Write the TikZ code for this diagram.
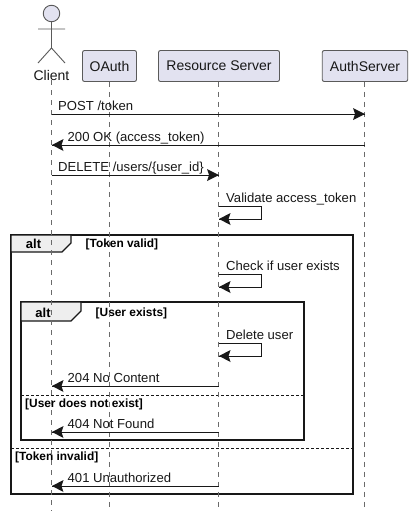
\documentclass[tikz,border=0pt]{standalone}
\usepackage{fontspec}
\setmainfont{Liberation Sans}
\definecolor{partfill}{HTML}{E2E2F0}
\definecolor{partline}{HTML}{5A5A5A}
\definecolor{lifeline}{HTML}{6A6A6A}
\definecolor{tabfill}{HTML}{EEEEEE}
\definecolor{ink}{HTML}{181818}
\tikzset{
  part/.style={draw=partline,fill=partfill,line width=0.9pt,rounded corners=2pt,minimum height=31pt,inner sep=0pt,font=\fontsize{14}{16}\selectfont,text=ink,anchor=center},
  life/.style={draw=lifeline,line width=0.8pt,dash pattern=on 5pt off 5pt},
  msg/.style={draw=ink,line width=0.9pt},
  tip/.style={fill=ink,draw=none},
  lab/.style={font=\fontsize{13.1}{15}\selectfont,text=ink,anchor=base west,inner sep=0pt},
  guard/.style={font=\fontsize{11.9}{13}\selectfont\bfseries,text=black,anchor=base west,inner sep=0pt},
  alttitle/.style={font=\fontsize{13}{15}\selectfont\bfseries,text=black,anchor=center,inner sep=0pt},
  frameline/.style={draw=ink,line width=2pt},
  sep/.style={draw=ink,line width=0.9pt,dash pattern=on 2.5pt off 2.5pt},
  tabbox/.style={fill=tabfill,draw=ink,line width=1.1pt},
}
\newcommand{\lefttip}[2]{\fill[tip] (#1+0.5,#2) -- (#1+12,#2-6) -- (#1+10,#2) -- (#1+12,#2+6) -- cycle;}
\begin{document}
\begin{tikzpicture}[x=1pt,y=-1pt]
\useasboundingbox (0,0) rectangle (412,517);
\fill[white] (0,0) rectangle (412,517);
% frames
\draw[frameline] (11,235) rectangle (353,494);
\draw[tabbox] (11,235) -- (71,235) -- (71,243) -- (62,252) -- (11,252) -- cycle;
\draw[frameline] (21,302) rectangle (304,440);
\draw[tabbox] (21,302) -- (81,302) -- (81,311) -- (71,321) -- (21,321) -- cycle;
\node[alttitle] (alta) at (33.5,244) {alt};
\node[alttitle] (altb) at (43,313) {alt};
\node[guard] (ga) at (85.5,247) {[Token valid]};
\node[guard] (gb) at (95.5,316) {[User exists]};
\draw[sep] (21,395) -- (304,395);
\draw[sep] (11,448) -- (353,448);
\node[guard] (gc) at (25,407.5) {[User does not exist]};
\node[guard] (gd) at (15,460.5) {[Token invalid]};
% participants
\node[part,minimum width=54pt] (oauth) at (109.5,66) {OAuth};
\node[part,minimum width=121pt] (rs) at (219,66) {Resource Server};
\node[part,minimum width=85.5pt] (auth) at (365,66) {AuthServer};
\node[font=\fontsize{14}{16}\selectfont,text=ink,inner sep=0pt] (client) at (51.5,75) {Client};
% actor
\node[circle,draw=partline,fill=partfill,line width=0.9pt,minimum size=16.5pt,inner sep=0pt] (head) at (51.5,13.5) {};
\coordinate (hip) at (51.5,48);
\coordinate (armL) at (38,29);
\coordinate (armR) at (65,29);
\coordinate (footL) at (38,63);
\coordinate (footR) at (65,63);
\draw[draw=partline,line width=0.9pt] (head.south) -- (hip) (armL) -- (armR) (footL) -- (hip) -- (footR);
% lifelines
\coordinate (e1) at (51.5,511);
\coordinate (e2) at (109.5,511);
\coordinate (e3) at (218.5,511);
\coordinate (e4) at (364.5,511);
\draw[life] (client.south -| e1) -- (e1);
\draw[life] (oauth.south -| e2) -- (e2);
\draw[life] (rs.south -| e3) -- (e3);
\draw[life] (auth.south -| e4) -- (e4);
% messages
\draw[msg] (e1 |- 0,114) -- (e4 |- 0,114);
\fill[tip] (365,114) -- (353,108) -- (355,114) -- (353,120) -- cycle;
\node[lab] (m1) at (58,110) {POST /token};
\draw[msg] (e4 |- 0,145) -- (e1 |- 0,145);
\lefttip{51.5}{145}
\node[lab] (m2) at (67.5,141) {200 OK (access\_token)};
\draw[msg] (e1 |- 0,175) -- (e3 |- 0,175);
\fill[tip] (219,175) -- (207,169) -- (209,175) -- (207,181) -- cycle;
\node[lab] (m3) at (58,171) {DELETE /users/\{user\_id\}};
\draw[msg] (e3 |- 0,206) -- (261.5,206) -- (261.5,219) -- (e3 |- 0,219);
\lefttip{218.5}{219}
\node[lab] (m4) at (226,202) {Validate access\_token};
\draw[msg] (e3 |- 0,274) -- (261.5,274) -- (261.5,287) -- (e3 |- 0,287);
\lefttip{218.5}{287}
\node[lab] (m5) at (226,270) {Check if user exists};
\draw[msg] (e3 |- 0,343) -- (261.5,343) -- (261.5,356) -- (e3 |- 0,356);
\lefttip{218.5}{356}
\node[lab] (m6) at (226,339) {Delete user};
\draw[msg] (e3 |- 0,386) -- (e1 |- 0,386);
\lefttip{51.5}{386}
\node[lab] (m7) at (67.5,382) {204 No Content};
\draw[msg] (e3 |- 0,432) -- (e1 |- 0,432);
\lefttip{51.5}{432}
\node[lab] (m8) at (67.5,428) {404 Not Found};
\draw[msg] (e3 |- 0,486) -- (e1 |- 0,486);
\lefttip{51.5}{486}
\node[lab] (m9) at (67.5,482) {401 Unauthorized};
\end{tikzpicture}
\end{document}
